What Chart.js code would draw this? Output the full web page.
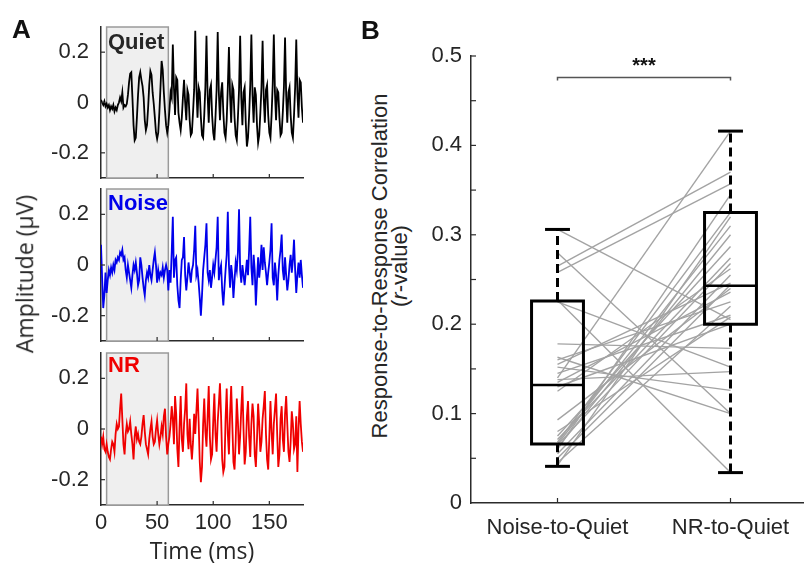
<!DOCTYPE html>
<html><head><meta charset="utf-8">
<script src="https://cdn.jsdelivr.net/npm/chart.js@4.4.1/dist/chart.umd.min.js"></script>
<style>
html,body{margin:0;padding:0;background:#fff;overflow:hidden;}
#root{position:relative;width:804px;height:567px;overflow:hidden;font-family:"Liberation Sans",Arial,sans-serif;color:#262626;}
canvas{position:absolute;}
.t{position:absolute;white-space:nowrap;line-height:1;}
.rot{position:absolute;white-space:nowrap;transform:translate(-50%,-50%) rotate(-90deg);text-align:center;}
</style></head>
<body><div id="root">
<canvas id="cQ" width="310" height="190" style="left:0;top:0"></canvas>
<canvas id="cN" width="310" height="170" style="left:0;top:180px"></canvas>
<canvas id="cR" width="310" height="227" style="left:0;top:340px"></canvas>
<canvas id="cB" width="400" height="537" style="left:420px;top:30px"></canvas>
<div class="t" style="left:12px;top:16px;font-weight:bold;font-size:26px;color:#111">A</div>
<div class="t" style="left:361px;top:17px;font-weight:bold;font-size:26px;color:#111">B</div>
<div class="t" style="left:108px;top:31px;font-weight:bold;font-size:22px;color:#262626">Quiet</div>
<div class="t" style="left:108px;top:192px;font-weight:bold;font-size:22px;color:rgb(0,0,235)">Noise</div>
<div class="t" style="left:108px;top:354px;font-weight:bold;font-size:22px;color:rgb(240,0,0)">NR</div>
<div class="rot" style="left:25px;top:274px;font-family:'Open Sans',sans-serif;font-size:23px;line-height:1.2">Amplitude (µV)</div>
<div class="rot" style="left:390px;top:266px;font-size:22px;line-height:20px">Response-to-Response Correlation<br>(<i>r</i>-value)</div>
</div>
<script>
// ---------------- Panel A data (amplitude in µV, sampled every 1 ms) ----------------
const SAMPLE_MS = 1;
const QUIET = [
 0.010, 0.000,-0.010, 0.005,-0.015,-0.005,-0.020,-0.010,-0.030,-0.015,
-0.025,-0.010,-0.035,-0.020,-0.030,-0.010, 0.000, 0.020, 0.005, 0.040,
-0.020,-0.010,-0.015,-0.005, 0.030, 0.080, 0.115, 0.120, 0.020,-0.090,
-0.150,-0.140,-0.060, 0.030, 0.100, 0.120, 0.090, 0.065, 0.020,-0.070,
-0.110,-0.090,-0.020, 0.070, 0.125, 0.110, 0.040,-0.005,-0.060,-0.120,
-0.145,-0.120,-0.040, 0.060, 0.165, 0.130, 0.040,-0.030,-0.090,-0.120,
-0.090,-0.030, 0.040, 0.020, 0.230, 0.060,-0.050, 0.100, 0.090,-0.040,
-0.080,-0.110,-0.060, 0.020, 0.090, 0.000,-0.070, 0.050, 0.030,-0.070,
-0.130,-0.120,-0.040, 0.050, 0.285, 0.060,-0.060, 0.060, 0.040,-0.060,
-0.130,-0.140,-0.050, 0.060, 0.265, 0.030,-0.080, 0.050, 0.070,-0.050,
-0.120,-0.150,-0.060, 0.050, 0.280, 0.040,-0.070, 0.040, 0.080,-0.040,
-0.120,-0.140,-0.070, 0.060, 0.220, 0.030,-0.080, 0.070, 0.050,-0.060,
-0.130,-0.150,-0.060, 0.050, 0.265, 0.020,-0.090, 0.040, 0.060,-0.080,
-0.175,-0.140,-0.050, 0.070, 0.270, 0.030,-0.080, 0.060, 0.030,-0.090,
-0.160,-0.130,-0.040, 0.060, 0.245, 0.020,-0.080, 0.050, 0.070,-0.050,
-0.120,-0.140,-0.050, 0.070, 0.270, 0.040,-0.070, 0.050, 0.040,-0.060,
-0.130,-0.120,-0.040, 0.060, 0.258, 0.030,-0.080, 0.040, 0.060,-0.050,
-0.120,-0.140,-0.050, 0.060, 0.250, 0.040,-0.060, 0.090, 0.080,-0.020,
-0.080];
const NOISE = [
 0.080,-0.050,-0.170,-0.120,-0.030,-0.110,-0.060,-0.020,-0.040,-0.010,
-0.030, 0.000,-0.020, 0.020, 0.010, 0.030, 0.020, 0.050, 0.040, 0.060,
 0.020, 0.030,-0.020,-0.050, 0.000,-0.030,-0.060,-0.090,-0.040, 0.000,
-0.020, 0.010,-0.030,-0.080,-0.060, 0.030, 0.000,-0.050,-0.090,-0.120,
-0.060,-0.030,-0.050, 0.000,-0.040,-0.060,-0.020, 0.020, 0.050, 0.000,
-0.070,-0.020,-0.050,-0.030,-0.040,-0.010,-0.050,-0.020, 0.000,-0.020,
-0.100,-0.020,-0.070, 0.050, 0.190,-0.050, 0.020, 0.030,-0.080,-0.140,
-0.170,-0.060, 0.020, 0.030, 0.110,-0.040,-0.100,-0.050, 0.010,-0.030,
-0.070,-0.020, 0.000, 0.060, 0.155,-0.040,-0.020,-0.070,-0.130,-0.200,
-0.120,-0.020, 0.030, 0.080, 0.165,-0.030,-0.060,-0.020,-0.090,-0.050,
 0.000,-0.030, 0.020, 0.070, 0.190,-0.060,-0.020, 0.000,-0.100,-0.160,
-0.090,-0.020, 0.040, 0.210, 0.000,-0.090, 0.000,-0.040,-0.130,-0.060,
 0.010,-0.020, 0.050, 0.220,-0.020,-0.070, 0.000,-0.040,-0.080,-0.030,
 0.020,-0.040, 0.060, 0.190,-0.010,-0.080, 0.040,-0.020,-0.160,-0.060,
 0.030,-0.050, 0.000, 0.080,-0.020, 0.070, 0.010,-0.030,-0.080,-0.030,
 0.010, 0.060, 0.165,-0.050,-0.080, 0.010,-0.040,-0.140,-0.040, 0.020,
 0.060, 0.120,-0.020,-0.060, 0.030,-0.040,-0.100,-0.060, 0.000, 0.040,
-0.030, 0.020, 0.100,-0.020,-0.110,-0.040, 0.010,-0.050, 0.020,-0.040,
-0.090];
const NR = [
-0.030,-0.060,-0.030,-0.080,-0.090,-0.060,-0.090,-0.110,-0.120,-0.080,
-0.050,-0.060,-0.090,-0.020, 0.020, 0.000, 0.010, 0.080, 0.140, 0.040,
-0.060,-0.100,-0.020, 0.020,-0.010, 0.000, 0.030,-0.020,-0.060,-0.120,
-0.030, 0.010,-0.040,-0.020,-0.050,-0.060,-0.030, 0.020, 0.055,-0.010,
-0.060,-0.080,-0.100,-0.040, 0.000, 0.030,-0.030,-0.060,-0.050, 0.000,
 0.035,-0.020,-0.060,-0.030, 0.010,-0.020, 0.050, 0.080,-0.030,-0.100,
-0.060,-0.030, 0.020, 0.090, 0.040,-0.060, 0.130, 0.060,-0.080,-0.150,
 0.010, 0.130,-0.040,-0.090, 0.020, 0.080, 0.180,-0.020,-0.080, 0.040,
-0.060,-0.120,-0.050, 0.060,-0.020, 0.070, 0.160, 0.030,-0.130,-0.210,
-0.150, 0.020, 0.120,-0.010,-0.070, 0.050, 0.170,-0.030,-0.120,-0.100,
 0.030, 0.140,-0.020,-0.090, 0.030, 0.100, 0.180, 0.050,-0.120,-0.170,
-0.150, 0.040, 0.160,-0.020,-0.100, 0.060, 0.170, 0.020,-0.130,-0.160,
-0.050, 0.120, 0.030,-0.100,-0.030, 0.080, 0.170, 0.000,-0.140,-0.090,
 0.050, 0.110,-0.030,-0.110, 0.020, 0.100, 0.050,-0.100,-0.150,-0.040,
 0.100, 0.020,-0.090,-0.050, 0.040, 0.090, 0.150,-0.020,-0.120,-0.160,
-0.030, 0.110,-0.010,-0.100, 0.020, 0.080, 0.140,-0.020,-0.150,-0.100,
 0.040, 0.090,-0.040,-0.090, 0.060, 0.130, 0.020,-0.090,-0.130,-0.050,
 0.070, 0.020,-0.080,-0.060, 0.050,-0.170, 0.000, 0.110, 0.020,-0.050,
-0.090];
const STIM_WINDOW = [5, 60];           // shaded pre-stimulus window (ms)
const A_X_TICKS = [0, 50, 100, 150];
const A_X_LABELS = ['0', '50', '100', '150'];
const A_Y_TICKS = [-0.2, 0, 0.2];
const A_Y_LABELS = ['-0.2', '0', '0.2'];

// ---------------- Panel B data ----------------
const CATEGORIES = ['Noise-to-Quiet', 'NR-to-Quiet'];
const CAT_POS = [1, 2];
const PAIR_NOISE = [0.306,0.280,0.265,0.258,0.227,0.225,0.178,0.163,0.160,0.155,
                    0.152,0.145,0.140,0.138,0.135,0.130,0.125,0.093,0.080,0.075,
                    0.071,0.068,0.066,0.065,0.062,0.060,0.055,0.050,0.045,0.042];
const PAIR_NR    = [0.205,0.100,0.370,0.357,0.034,0.152,0.173,0.100,0.225,0.246,
                    0.126,0.210,0.416,0.147,0.236,0.200,0.262,0.240,0.208,0.287,
                    0.274,0.325,0.310,0.268,0.300,0.345,0.255,0.244,0.220,0.320];
const BOX_MIN = [0.041, 0.034];
const BOX_Q1  = [0.066, 0.200];
const BOX_MED = [0.132, 0.243];
const BOX_Q3  = [0.226, 0.325];
const BOX_MAX = [0.306, 0.416];
const SIG_Y = 0.476;
const SIG_LABEL = '***';
const B_Y_TICKS = [0, 0.05, 0.1, 0.15, 0.2, 0.25, 0.3, 0.35, 0.4, 0.45, 0.5];
const B_Y_LABELS = ['0', '', '0.1', '', '0.2', '', '0.3', '', '0.4', '', '0.5'];

// ---------------- styling ----------------
const TXT = '#262626';
const AXIS = '#2b2b2b';
const FONT = '"Liberation Sans", Arial, sans-serif';
const BOX_HALF = 0.15;
const CAP_HALF = 0.072;

const TIME_MS = QUIET.map((_, i) => i * SAMPLE_MS);

function noPad(s) { s.paddingTop = 0; s.paddingBottom = 0; s.paddingLeft = 0; s.paddingRight = 0; }

const shadePlugin = {
  id: 'shade',
  beforeDatasetsDraw(chart, args, opts) {
    if (!opts || opts.from == null) return;
    const {ctx, chartArea: a, scales: {x}} = chart;
    const x0 = x.getPixelForValue(opts.from), x1 = x.getPixelForValue(opts.to);
    ctx.save();
    ctx.fillStyle = opts.fill;
    ctx.fillRect(x0, a.top, x1 - x0, a.bottom - a.top);
    ctx.strokeStyle = opts.stroke; ctx.lineWidth = opts.width;
    ctx.strokeRect(x0, a.top, x1 - x0, a.bottom - a.top);
    ctx.restore();
  }
};
const inTicks = {
  id: 'inTicks',
  afterDraw(chart, args, opts) {
    const {ctx, chartArea: a, scales: {x, y}} = chart;
    ctx.save();
    ctx.strokeStyle = opts.color; ctx.lineWidth = opts.width;
    x.ticks.forEach(t => {
      const px = x.getPixelForValue(t.value);
      if (px <= a.left + 1 || px > a.right) return;
      ctx.beginPath(); ctx.moveTo(px, a.bottom); ctx.lineTo(px, a.bottom - opts.len); ctx.stroke();
    });
    y.ticks.forEach(t => {
      const py = y.getPixelForValue(t.value);
      if (py >= a.bottom - 1 || py < a.top) return;
      ctx.beginPath(); ctx.moveTo(a.left, py); ctx.lineTo(a.left + opts.len, py); ctx.stroke();
    });
    ctx.restore();
  }
};
const sigPlugin = {
  id: 'sig',
  afterDatasetsDraw(chart, args, opts) {
    if (!opts || opts.y == null) return;
    const {ctx, scales: {x, y}} = chart;
    const x0 = x.getPixelForValue(opts.from), x1 = x.getPixelForValue(opts.to);
    const py = y.getPixelForValue(opts.y);
    ctx.save();
    ctx.strokeStyle = '#555'; ctx.lineWidth = 1.5;
    ctx.beginPath();
    ctx.moveTo(x0, py + 3); ctx.lineTo(x0, py); ctx.lineTo(x1, py); ctx.lineTo(x1, py + 3);
    ctx.stroke();
    ctx.fillStyle = '#111'; ctx.font = 'bold 20px ' + FONT;
    ctx.textAlign = 'center'; ctx.textBaseline = 'alphabetic';
    ctx.fillText(opts.label, (x0 + x1) / 2, py - 5);
    ctx.restore();
  }
};

function waveChart(id, values, color, padTop, xHeight, showX) {
  return new Chart(document.getElementById(id), {
    type: 'line',
    data: { datasets: [{
      data: values.map((v, i) => ({x: TIME_MS[i], y: v})),
      borderColor: color, borderWidth: 1.8, pointRadius: 0, tension: 0, fill: false
    }]},
    plugins: [shadePlugin, inTicks],
    options: {
      responsive: false, animation: false, devicePixelRatio: 1,
      layout: { padding: {top: padTop, right: 7, left: 0, bottom: 0} },
      plugins: {
        legend: {display: false}, tooltip: {enabled: false},
        shade: {from: STIM_WINDOW[0], to: STIM_WINDOW[1], fill: '#efefef', stroke: '#9a9a9a', width: 1.5},
        inTicks: {len: 4, color: AXIS, width: 1.2}
      },
      scales: {
        x: {
          type: 'linear', min: 0, max: 180,
          afterBuildTicks: s => { s.ticks = A_X_TICKS.map(v => ({value: v})); },
          afterFit: s => { s.height = xHeight; noPad(s); },
          grid: {display: false, drawTicks: false},
          border: {display: true, color: AXIS, width: 1.5},
          ticks: {display: showX, padding: 5, color: TXT, autoSkip: false, maxRotation: 0,
                  font: {family: FONT, size: 22}, callback: (v, i) => A_X_LABELS[i]},
          title: {display: showX, text: 'Time (ms)', color: TXT,
                  font: {family: '"Open Sans", sans-serif', size: 23}, padding: {top: 0, bottom: 1}}
        },
        y: {
          type: 'linear', min: -0.3, max: 0.3,
          afterBuildTicks: s => { s.ticks = A_Y_TICKS.map(v => ({value: v})); },
          afterFit: s => { s.width = 101; noPad(s); },
          grid: {display: false, drawTicks: false},
          border: {display: true, color: AXIS, width: 1.5},
          ticks: {padding: 12, color: TXT, font: {family: FONT, size: 22}, callback: (v, i) => A_Y_LABELS[i]}
        }
      }
    }
  });
}

waveChart('cQ', QUIET, '#000000', 27, 12, false);
waveChart('cN', NOISE, 'rgb(0,0,235)', 9, 9, false);
waveChart('cR', NR, 'rgb(240,0,0)', 13, 62, true);

// ---------------- Panel B ----------------
const bDatasets = [];
PAIR_NOISE.forEach((v, i) => {
  bDatasets.push({data: [{x: CAT_POS[0], y: v}, {x: CAT_POS[1], y: PAIR_NR[i]}],
    borderColor: '#a3a3a3', borderWidth: 1.4, order: 10});
});
CAT_POS.forEach((c, i) => {
  const solid = {borderColor: '#000', borderWidth: 3, order: 1, borderCapStyle: 'square', borderJoinStyle: 'miter'};
  bDatasets.push(Object.assign({data: [{x: c, y: BOX_Q3[i]}, {x: c, y: BOX_MAX[i]}], borderDash: [9, 5]}, solid, {borderCapStyle: 'butt'}));
  bDatasets.push(Object.assign({data: [{x: c, y: BOX_MIN[i]}, {x: c, y: BOX_Q1[i]}], borderDash: [9, 5]}, solid, {borderCapStyle: 'butt'}));
  bDatasets.push(Object.assign({data: [{x: c - CAP_HALF, y: BOX_MAX[i]}, {x: c + CAP_HALF, y: BOX_MAX[i]}]}, solid, {borderCapStyle: 'butt'}));
  bDatasets.push(Object.assign({data: [{x: c - CAP_HALF, y: BOX_MIN[i]}, {x: c + CAP_HALF, y: BOX_MIN[i]}]}, solid, {borderCapStyle: 'butt'}));
  bDatasets.push(Object.assign({data: [
    {x: c - BOX_HALF, y: BOX_Q1[i]}, {x: c + BOX_HALF, y: BOX_Q1[i]},
    {x: c + BOX_HALF, y: BOX_Q3[i]}, {x: c - BOX_HALF, y: BOX_Q3[i]},
    {x: c - BOX_HALF, y: BOX_Q1[i]}]}, solid));
  bDatasets.push(Object.assign({data: [{x: c - BOX_HALF, y: BOX_MED[i]}, {x: c + BOX_HALF, y: BOX_MED[i]}]}, solid, {borderWidth: 2.5, borderCapStyle: 'butt'}));
});

new Chart(document.getElementById('cB'), {
  type: 'line',
  data: { datasets: bDatasets.map(d => Object.assign({pointRadius: 0, tension: 0, fill: false}, d)) },
  plugins: [inTicks, sigPlugin],
  options: {
    responsive: false, animation: false, devicePixelRatio: 1,
    layout: { padding: {top: 26, right: 3, left: 0, bottom: 0} },
    plugins: {
      legend: {display: false}, tooltip: {enabled: false},
      inTicks: {len: 5, color: AXIS, width: 1.2},
      sig: {y: SIG_Y, from: CAT_POS[0], to: CAT_POS[1], label: SIG_LABEL}
    },
    scales: {
      x: {
        type: 'linear', min: 0.5, max: 2.5,
        afterBuildTicks: s => { s.ticks = CAT_POS.map(v => ({value: v})); },
        afterFit: s => { s.height = 64; noPad(s); },
        grid: {display: false, drawTicks: false},
        border: {display: true, color: AXIS, width: 1.5},
        ticks: {padding: 12, color: TXT, autoSkip: false, maxRotation: 0,
                font: {family: FONT, size: 22}, callback: (v, i) => CATEGORIES[i]}
      },
      y: {
        type: 'linear', min: 0, max: 0.5,
        afterBuildTicks: s => { s.ticks = B_Y_TICKS.map(v => ({value: v})); },
        afterFit: s => { s.width = 51; noPad(s); },
        grid: {display: false, drawTicks: false},
        border: {display: true, color: AXIS, width: 1.5},
        ticks: {padding: 9, color: TXT, autoSkip: false, font: {family: FONT, size: 22},
                callback: (v, i) => B_Y_LABELS[i]}
      }
    }
  }
});
</script>
</body></html>
